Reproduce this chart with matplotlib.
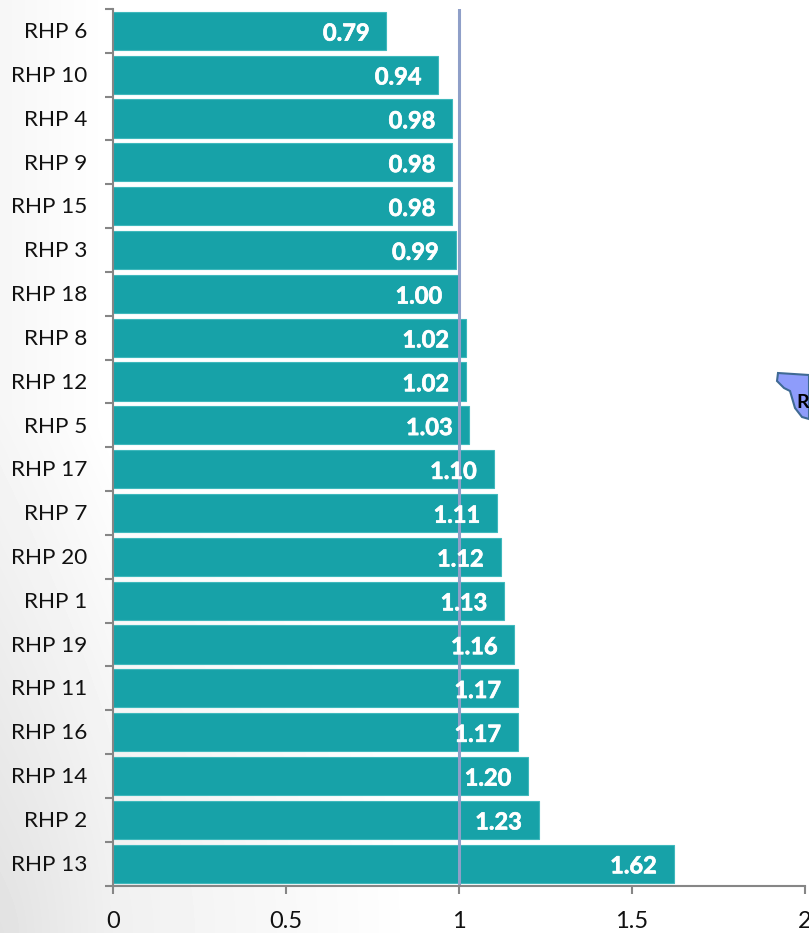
import numpy as np
import matplotlib
matplotlib.use("Agg")
import matplotlib.pyplot as plt
import matplotlib.patheffects as pe
from matplotlib.patches import Polygon
from matplotlib.transforms import ScaledTranslation

categories = ["RHP 6", "RHP 10", "RHP 4", "RHP 9", "RHP 15", "RHP 3", "RHP 18", "RHP 8", "RHP 12", "RHP 5",
              "RHP 17", "RHP 7", "RHP 20", "RHP 1", "RHP 19", "RHP 11", "RHP 16", "RHP 14", "RHP 2", "RHP 13"]
values = [0.79, 0.94, 0.98, 0.98, 0.98, 0.99, 1.00, 1.02, 1.02, 1.03,
          1.10, 1.11, 1.12, 1.13, 1.16, 1.17, 1.17, 1.20, 1.23, 1.62]
x_ticks = [0, 0.5, 1, 1.5, 2]
x_labels = ["0", "0.5", "1", "1.5", "2"]
reference_value = 1

W, H = 809, 933
plt.rcParams["font.family"] = ["Lato", "DejaVu Sans"]
fig = plt.figure(figsize=(W / 100, H / 100), dpi=100, facecolor="white")

# soft grey backdrop, darkest in the lower-left corner
bg = fig.add_axes([0, 0, 1, 1], zorder=0)
yy, xx = np.mgrid[0:H, 0:W]
d_low = np.sqrt((xx / 420.0) ** 2 + ((H - yy) / 520.0) ** 2)
d_left = xx / 110.0
shade = 0.08 * np.clip(1 - d_low, 0, 1) + 0.035 * np.clip(1 - d_left, 0, 1)
bg.imshow(1 - shade, cmap="gray", vmin=0, vmax=1, aspect="auto", interpolation="bilinear")
bg.axis("off")

L, R, T, B = 113, 805, 9, 885.5
ax = fig.add_axes([L / W, 1 - B / H, (R - L) / W, (B - T) / H], zorder=1)
ax.patch.set_alpha(0)

pos = np.arange(len(categories))
ax.barh(pos, values, height=0.87, color="#17a2a8", edgecolor="#3fb8bc", linewidth=0.8, zorder=2)
ax.set_xlim(0, 2)
ax.set_ylim(len(categories) - 0.5, -0.5)

ax.axvline(reference_value, color="#8f9fc8", linewidth=2.2, zorder=3)

for y, v in zip(pos, values):
    ax.annotate(f"{v:.2f}", (v, y), xytext=(-12, -1.6), textcoords="offset points",
                ha="right", va="center", color="white", fontweight="bold", fontsize=17, zorder=4,
                path_effects=[pe.withStroke(linewidth=0.5, foreground="white")])

for s in ("top", "right"):
    ax.spines[s].set_visible(False)
for s in ("left", "bottom"):
    ax.spines[s].set_color("#868686")
    ax.spines[s].set_linewidth(1.5)
    ax.spines[s].set_zorder(5)

ax.set_xticks(x_ticks)
ax.set_xticklabels(x_labels, fontsize=17, color="#111111")
ax.tick_params(axis="x", length=6, width=1.5, color="#868686", pad=12.5)

ax.set_yticks(np.arange(len(categories) + 1) - 0.5)
ax.set_yticklabels([])
ax.tick_params(axis="y", which="major", length=6, width=1.5, color="#868686")
ax.set_yticks(pos, minor=True)
ax.set_yticklabels(categories, minor=True, fontsize=16.2, color="#111111")
ax.tick_params(axis="y", which="minor", length=0, pad=18.5)
up = ScaledTranslation(0, 0.8 / 100, fig.dpi_scale_trans)
for lab in ax.get_yticklabels(minor=True):
    lab.set_transform(lab.get_transform() + up)

# fragment of a map shape cut off by the right edge
overlay = fig.add_axes([0, 0, 1, 1], zorder=2)
overlay.set_xlim(0, W)
overlay.set_ylim(H, 0)
overlay.axis("off")
overlay.add_patch(Polygon([(778, 373), (777, 381), (784, 388), (790, 391), (795, 408), (802, 417), (809, 419), (809, 375)],
                          closed=True, facecolor="#8e9cfb", edgecolor="#3f6a94", linewidth=1.5))
overlay.text(796, 403, "RHP", fontsize=14, fontweight="bold", color="black", ha="left", va="center", clip_on=True)

fig.savefig("out.png", dpi=100)
